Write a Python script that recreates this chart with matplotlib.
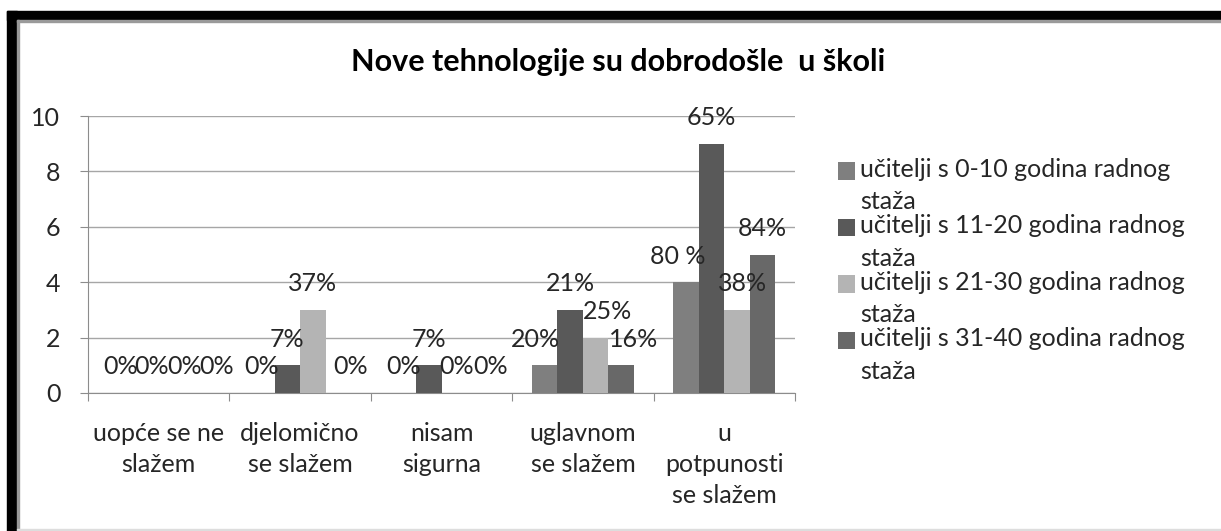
import numpy as np
import matplotlib.pyplot as plt
from matplotlib.patches import Rectangle

# ===============================
# DATA
# ===============================
categories = ["uopće se ne\nslažem", "djelomično\nse slažem", "nisam\nsigurna",
              "uglavnom\nse slažem", "u\npotpunosti\nse slažem"]
series_names = ["učitelji s 0-10 godina radnog\nstaža",
                "učitelji s 11-20 godina radnog\nstaža",
                "učitelji s 21-30 godina radnog\nstaža",
                "učitelji s 31-40 godina radnog\nstaža"]
vals_0_10 = [0, 0, 0, 1, 4]
vals_11_20 = [0, 1, 1, 3, 9]
vals_21_30 = [0, 3, 0, 2, 3]
vals_31_40 = [0, 0, 0, 1, 5]
lab_0_10 = ["0%", "0%", "0%", "20%", "80 %"]
lab_11_20 = ["0%", "7%", "7%", "21%", "65%"]
lab_21_30 = ["0%", "37%", "0%", "25%", "38%"]
lab_31_40 = ["0%", "0%", "0%", "16%", "84%"]

values = [vals_0_10, vals_11_20, vals_21_30, vals_31_40]
labels = [lab_0_10, lab_11_20, lab_21_30, lab_31_40]
colors = ["#7f7f7f", "#595959", "#b4b4b4", "#686868"]

# label nudges in pixels (excel moved overlapping labels a bit)
nudge = [[0, 0, 0, -9, -8],
         [6, 0, 0, 0, 0],
         [13, 0, 2, 12, 6],
         [20, 12, 11, 12, 0]]

plt.rcParams['font.family'] = ['Lato', 'DejaVu Sans']
TXT = "#262626"
FS = 18

# ===============================
# FIGURE
# ===============================
fig = plt.figure(figsize=(12.21, 5.31), dpi=100)
ax = fig.add_axes([0.0721, 0.2599, 0.5790, 0.5216])

x = np.arange(len(categories))
w = 0.18
for i in range(4):
    pos = x + (i - 1.5) * w
    ax.bar(pos, values[i], width=w, color=colors[i], label=series_names[i], zorder=3)
    for j in range(len(categories)):
        ax.annotate(labels[i][j], (pos[j], values[i][j]), xytext=(nudge[i][j], 26),
                    textcoords="offset pixels", ha="center", va="center",
                    fontsize=FS, color=TXT, zorder=4)

ax.set_xlim(-0.5, 4.5)
ax.set_ylim(0, 10)
ax.set_yticks([0, 2, 4, 6, 8, 10])
ax.yaxis.grid(True, color="#a6a6a6", linewidth=1, zorder=0)
ax.tick_params(axis="y", length=6, color="#8c8c8c", labelsize=FS, labelcolor=TXT, pad=14)

# ticks on category boundaries, labels in the middle
ax.set_xticks(np.arange(-0.5, 5, 1))
ax.set_xticklabels([])
ax.set_xticks(x, minor=True)
ax.set_xticklabels(categories, minor=True, fontsize=FS, color=TXT, linespacing=1.42)
ax.tick_params(axis="x", which="major", length=6, color="#8c8c8c")
ax.tick_params(axis="x", which="minor", length=0, pad=21)

for s in ["top", "right"]:
    ax.spines[s].set_visible(False)
ax.spines["left"].set_color("#8c8c8c")
ax.spines["bottom"].set_color("#8c8c8c")

fig.text(0.506, 0.883, "Nove tehnologije su dobrodošle  u školi", ha="center", va="center",
         fontsize=22, fontweight="bold", color="#000000")

leg = fig.legend(loc="upper left", bbox_to_anchor=(0.686, 0.703), frameon=False,
                 fontsize=FS, labelcolor=TXT, handlelength=0.7, handleheight=0.7,
                 handletextpad=0.2, labelspacing=0.04, borderpad=0, borderaxespad=0)
for t in leg.get_texts():
    t.set_linespacing(1.5)
# put the square next to the first line of each entry
for h in leg.legend_handles:
    h.set_y(h.get_y() + 11)

# black frame of the screenshot
fig.patches.append(Rectangle((7 / 1221, 1 - 20 / 531), 1, 9 / 531, transform=fig.transFigure,
                             color="black", zorder=10))
fig.patches.append(Rectangle((7 / 1221, 0), 10 / 1221, 1 - 11 / 531, transform=fig.transFigure,
                             color="black", zorder=10))
fig.patches.append(Rectangle((17 / 1221, 1 - 22 / 531), 1, 2 / 531, transform=fig.transFigure,
                             color="#9a9a9a", zorder=10))
fig.patches.append(Rectangle((17 / 1221, 0), 2 / 1221, 1 - 20 / 531, transform=fig.transFigure,
                             color="#9a9a9a", zorder=10))
fig.patches.append(Rectangle((17 / 1221, 1 / 531), 1, 1 / 531, transform=fig.transFigure,
                             color="#dddddd", zorder=10))

fig.savefig("out.png", dpi=100)
